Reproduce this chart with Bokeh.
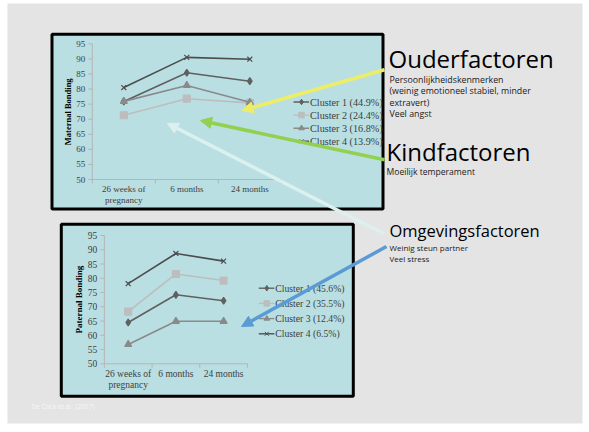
import numpy as np
from bokeh.plotting import figure
from bokeh.models import Range1d, Arrow, NormalHead
from bokeh.core.properties import value
from bokeh.embed import file_html
from bokeh.resources import INLINE

# ---------------- data ----------------
categories = ["26 weeks of\npregnancy", "6 months", "24 months"]
y_ticks = [50, 55, 60, 65, 70, 75, 80, 85, 90, 95]

maternal_title = "Maternal Bonding"
maternal_labels = ["Cluster 1 (44.9%)", "Cluster 2 (24.4%)", "Cluster 3 (16.8%)", "Cluster 4 (13.9%)"]
maternal_c1 = [75.9, 85.4, 82.6]
maternal_c2 = [71.3, 76.8, 75.4]
maternal_c3 = [75.9, 81.2, 75.6]
maternal_c4 = [80.5, 90.5, 89.9]

paternal_title = "Paternal Bonding"
paternal_labels = ["Cluster 1 (45.6%)", "Cluster 2 (35.5%)", "Cluster 3 (12.4%)", "Cluster 4 (6.5%)"]
paternal_c1 = [64.5, 74.2, 72.1]
paternal_c2 = [68.3, 81.5, 79.2]
paternal_c3 = [56.8, 64.9, 64.9]
paternal_c4 = [78.1, 88.7, 86.0]

ouder_title = "Ouderfactoren"
ouder_lines = ["Persoonlijkheidskenmerken", "(weinig emotioneel stabiel, minder", "extravert)", "Veel angst"]
kind_title = "Kindfactoren"
kind_lines = ["Moeilijk temperament"]
omg_title = "Omgevingsfactoren"
omg_lines = ["Weinig steun partner", "Veel stress"]
citation = "De Cock et al., (2017)"

# ---------------- styles ----------------
series_colors = ["#606060", "#bdbdbd", "#8a8a8a", "#4d4d4d"]
series_markers = ["diamond", "square", "triangle", "x"]
series_sizes = [7, 7, 7, 7]
SERIF = value("Liberation Serif")
SANS = value("Open Sans")
AXIS_COLOR = "#b5b5b5"
TEXT_COLOR = "#404040"

W, H = 583, 424
X0, Y0 = 0, 0

p = figure(width=W, height=H, x_range=Range1d(X0, X0 + W), y_range=Range1d(Y0 + H, Y0),
           output_backend="svg", toolbar_location=None, min_border=0,
           x_axis_location=None, y_axis_location=None,
           background_fill_color="white", border_fill_color="white",
           outline_line_color=None)
p.grid.visible = False

# slide background
p.quad(left=[7], right=[582], top=[3], bottom=[423], fill_color="#e4e4e4", line_color=None)


def add_chart(name, box, xpix0, xstep, pix_lo, pix_hi, series, labels, title,
              title_xy, legend_x, legend_y0, legend_dy, fs, xlab_off, legend_fs):
    bl, br, bt, bb = box
    p.quad(left=[bl], right=[br], top=[bt], bottom=[bb], fill_color="#b9dfe3",
           line_color="black", line_width=3)
    lo, hi = y_ticks[0], y_ticks[-1]
    b = (pix_hi - pix_lo) / (hi - lo)
    ystart = lo + ((Y0 + H) - pix_lo) / b
    yend = lo + (Y0 - pix_lo) / b
    xstart = (X0 - xpix0) / xstep
    xend = (X0 + W - xpix0) / xstep
    p.extra_x_ranges[name] = Range1d(xstart, xend)
    p.extra_y_ranges[name] = Range1d(ystart, yend)
    kw = dict(x_range_name=name, y_range_name=name)
    n = len(categories)
    # axes
    p.segment(x0=[-0.5], y0=[lo], x1=[-0.5], y1=[hi], line_color=AXIS_COLOR, line_width=1, **kw)
    p.segment(x0=[-0.5], y0=[lo], x1=[n - 0.5], y1=[lo], line_color=AXIS_COLOR, line_width=1, **kw)
    p.ray(x=[-0.5] * len(y_ticks), y=y_ticks, length=4, angle=np.pi, length_units="screen",
          line_color=AXIS_COLOR, line_width=1, **kw)
    bx = [i - 0.5 for i in range(n + 1)]
    p.ray(x=bx, y=[lo] * len(bx), length=4, angle=-np.pi / 2, length_units="screen",
          line_color=AXIS_COLOR, line_width=1, **kw)
    p.text(x=[-0.5] * len(y_ticks), y=y_ticks, text=[str(t) for t in y_ticks], x_offset=-7,
           text_align="right", text_baseline="middle", text_font=SERIF,
           text_font_size=f"{fs}px", text_color=TEXT_COLOR, **kw)
    p.text(x=list(range(n)), y=[lo] * n, text=categories, y_offset=xlab_off,
           text_align="center", text_baseline="top", text_font=SERIF,
           text_font_size=f"{fs}px", text_color=TEXT_COLOR, text_line_height=1.1, **kw)
    p.text(x=[title_xy[0]], y=[title_xy[1]], text=[title], angle=np.pi / 2,
           text_align="center", text_baseline="middle", text_font=SERIF,
           text_font_style="bold", text_font_size=f"{fs - 0.5}px", text_color="black")
    xs = list(range(n))
    for i, vals in enumerate(series):
        c = series_colors[i]
        p.line(x=xs, y=vals, line_color=c, line_width=1.6, **kw)
        p.scatter(x=xs, y=vals, marker=series_markers[i], size=series_sizes[i],
                  fill_color=c, line_color=c, line_width=1.2, **kw)
        ly = legend_y0 + i * legend_dy
        p.segment(x0=[legend_x], y0=[ly], x1=[legend_x + 15.5], y1=[ly], line_color=c, line_width=1.4)
        p.scatter(x=[legend_x + 8], y=[ly], marker=series_markers[i], size=series_sizes[i] - 1.5,
                  fill_color=c, line_color=c, line_width=1.0)
        p.text(x=[legend_x + 16.5], y=[ly], text=[labels[i]], text_align="left",
               text_baseline="middle", text_font=SERIF, text_font_size=f"{legend_fs}px",
               text_color=TEXT_COLOR)


add_chart("mat", (51.5, 382.5, 33.8, 208.5), 123.3, 63.0, 179.0, 43.3,
          [maternal_c1, maternal_c2, maternal_c3, maternal_c4], maternal_labels,
          maternal_title, (67.3, 111.3), 293.0, 101.5, 13.1, 9, 4.5, 10.2)
add_chart("pat", (60.8, 352.8, 223.8, 395.8), 127.7, 47.7, 363.3, 235.0,
          [paternal_c1, paternal_c2, paternal_c3, paternal_c4], paternal_labels,
          paternal_title, (78.3, 299.2), 258.3, 287.7, 15.2, 9.5, 5.5, 9.7)

# ---------------- right-hand texts ----------------
p.text(x=[388], y=[58.0], text=[ouder_title], text_font=SANS, text_font_size="24px",
       text_baseline="middle", text_color="black")
p.text(x=[389] * len(ouder_lines), y=[79.5 + i * 11.4 for i in range(len(ouder_lines))],
       text=ouder_lines, text_font=SANS, text_font_size="8.8px", text_baseline="middle",
       text_color="#1a1a1a")
p.text(x=[386], y=[151.3], text=[kind_title], text_font=SANS, text_font_size="24px",
       text_baseline="middle", text_color="black")
p.text(x=[386] * len(kind_lines), y=[171.7], text=kind_lines, text_font=SANS,
       text_font_size="8.6px", text_baseline="middle", text_color="#1a1a1a")
p.text(x=[389], y=[229.7], text=[omg_title], text_font=SANS, text_font_size="16.5px",
       text_baseline="middle", text_color="black")
p.text(x=[389] * len(omg_lines), y=[246.7 + i * 11.6 for i in range(len(omg_lines))],
       text=omg_lines, text_font=SANS, text_font_size="8px", text_baseline="middle",
       text_color="#1a1a1a")
p.text(x=[31], y=[405.7], text=[citation], text_font=SANS, text_font_size="6.5px",
       text_baseline="middle", text_color="#f7f7f7")

# ---------------- arrows ----------------
arrows = [
    ((384, 69.3), (241.7, 110.0), "#eeee66"),
    ((384, 159.3), (200.0, 120.0), "#92d050"),
    ((383.3, 233.3), (166.7, 122.7), "#dcf0f0"),
    ((386, 246.0), (241.0, 326.0), "#5b9bd5"),
]
for (xs_, ys_), (xe_, ye_), col in arrows:
    p.add_layout(Arrow(end=NormalHead(size=11, fill_color=col, line_color=col),
                       x_start=xs_, y_start=ys_, x_end=xe_, y_end=ye_,
                       line_color=col, line_width=3.5))

open("out.html", "w").write(file_html(p, INLINE))
